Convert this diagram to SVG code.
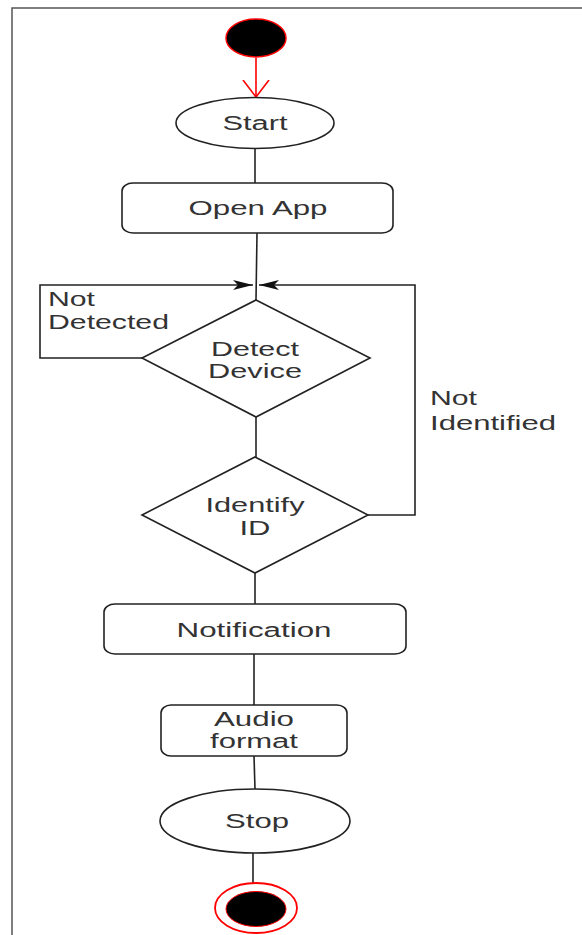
<svg xmlns="http://www.w3.org/2000/svg" width="582" height="935" viewBox="0 0 582 935">
<style>
.ln{fill:none;stroke:#222;stroke-width:1.6}
.shape{fill:#fff;stroke:#222;stroke-width:1.6}
.t{font-family:"Liberation Sans",Arial,sans-serif;font-size:20px;fill:#333;text-anchor:middle}
.tl{font-family:"Liberation Sans",Arial,sans-serif;font-size:20px;fill:#333;text-anchor:start}
</style>
<defs>
<marker id="fill" viewBox="0 0 20 10" markerWidth="20" markerHeight="10" refX="20" refY="5" orient="auto" markerUnits="userSpaceOnUse">
<path d="M0,0 L20,5 L0,10 L5,5 Z" fill="#111"/>
</marker>
<marker id="open" viewBox="0 0 18 28" markerWidth="18" markerHeight="28" refX="17" refY="14" orient="auto" markerUnits="userSpaceOnUse">
<path d="M0,1 L17,14 L0,27" fill="none" stroke="#f00" stroke-width="1.6"/>
</marker>
</defs>
<rect width="582" height="935" fill="#fff"/>
<path d="M12,935 L12,8 L582,8" fill="none" stroke="#555" stroke-width="1.5"/>
<g id="connectors">
<path d="M256,58 L256,97" fill="none" stroke="#f00" stroke-width="1.6" marker-end="url(#open)"/>
<path class="ln" d="M255,148 L255,183"/>
<path class="ln" d="M257,233 L256,300"/>
<path class="ln" d="M142,358 L40,358 L40,285 L253,285" marker-end="url(#fill)"/>
<path class="ln" d="M368,515 L415,515 L415,285 L259,285" marker-end="url(#fill)"/>
<path class="ln" d="M256,417 L256,457"/>
<path class="ln" d="M255,573 L255,604"/>
<path class="ln" d="M254,654 L254,705"/>
<path class="ln" d="M254,756 L255,789"/>
<path class="ln" d="M253,853 L253,883"/>
</g>
<g id="initial">
<ellipse cx="256" cy="38" rx="30" ry="19" fill="#000" stroke="#f00" stroke-width="1.5"/>
</g>
<g id="start">
<ellipse class="shape" cx="255" cy="123" rx="79" ry="25.5"/>
<text class="t" x="255" y="130" textLength="65" lengthAdjust="spacingAndGlyphs">Start</text>
</g>
<g id="open-app">
<rect class="shape" x="122" y="183" width="271" height="50" rx="11" ry="8"/>
<text class="t" x="258" y="215" textLength="139" lengthAdjust="spacingAndGlyphs">Open App</text>
</g>
<g id="detect-device">
<polygon class="shape" points="256,300 370,358 256,417 142,358"/>
<text class="t" x="255" y="356" textLength="88" lengthAdjust="spacingAndGlyphs">Detect</text>
<text class="t" x="255" y="378" textLength="94" lengthAdjust="spacingAndGlyphs">Device</text>
</g>
<g id="not-detected-label">
<text class="tl" x="48" y="306" textLength="47" lengthAdjust="spacingAndGlyphs">Not</text>
<text class="tl" x="48" y="329" textLength="121" lengthAdjust="spacingAndGlyphs">Detected</text>
</g>
<g id="identify-id">
<polygon class="shape" points="255,457 368,515 255,573 142,515"/>
<text class="t" x="255" y="512" textLength="99" lengthAdjust="spacingAndGlyphs">Identify</text>
<text class="t" x="255" y="535" textLength="31" lengthAdjust="spacingAndGlyphs">ID</text>
</g>
<g id="not-identified-label">
<text class="tl" x="430" y="405" textLength="47" lengthAdjust="spacingAndGlyphs">Not</text>
<text class="tl" x="430" y="430" textLength="126" lengthAdjust="spacingAndGlyphs">Identified</text>
</g>
<g id="notification">
<rect class="shape" x="104" y="604" width="302" height="50" rx="11" ry="8"/>
<text class="t" x="254" y="637" textLength="155" lengthAdjust="spacingAndGlyphs">Notification</text>
</g>
<g id="audio-format">
<rect class="shape" x="161" y="705" width="186" height="51" rx="10" ry="8"/>
<text class="t" x="254" y="726" textLength="80" lengthAdjust="spacingAndGlyphs">Audio</text>
<text class="t" x="254" y="748" textLength="88" lengthAdjust="spacingAndGlyphs">format</text>
</g>
<g id="stop">
<ellipse class="shape" cx="255" cy="821" rx="95" ry="32"/>
<text class="t" x="257" y="828" textLength="64" lengthAdjust="spacingAndGlyphs">Stop</text>
</g>
<g id="final">
<ellipse cx="256" cy="908" rx="41" ry="25" fill="#fff" stroke="#f00" stroke-width="1.8"/>
<ellipse cx="256" cy="909" rx="30" ry="17.5" fill="#000" stroke="#f00" stroke-width="1"/>
</g>
</svg>
